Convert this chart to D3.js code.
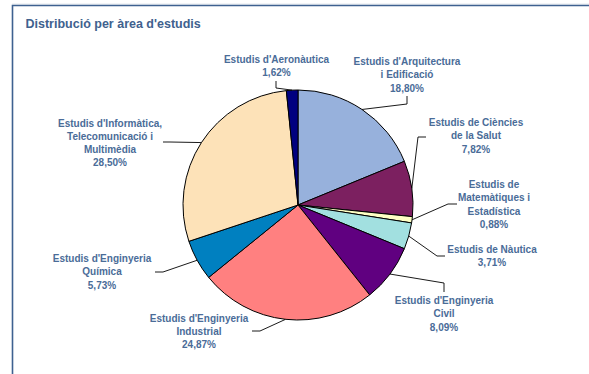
<!DOCTYPE html>
<html>
<head>
<meta charset="utf-8">
<script src="https://cdn.jsdelivr.net/npm/d3@7/dist/d3.min.js"></script>
<style>
  html, body { margin: 0; padding: 0; background: #ffffff; }
  svg { display: block; }
</style>
</head>
<body>
<svg id="chart" width="589" height="374"></svg>
<script>
// Study areas, clockwise from 12 o'clock
const categories = [
  "Estudis d'Arquitectura\ni Edificació",
  "Estudis de Ciències\nde la Salut",
  "Estudis de\nMatemàtiques i\nEstadística",
  "Estudis de Nàutica",
  "Estudis d'Enginyeria\nCivil",
  "Estudis d'Enginyeria\nIndustrial",
  "Estudis d'Enginyeria\nQuímica",
  "Estudis d'Informàtica,\nTelecomunicació i\nMultimèdia",
  "Estudis d'Aeronàutica"
];
const shares = [18.80, 7.82, 0.88, 3.71, 8.09, 24.87, 5.73, 28.50, 1.62];
const sliceColors = ["#97b1dc", "#7c2060", "#ffffc4", "#a2e0e0", "#600080",
                     "#ff8080", "#0080c0", "#fde2b8", "#000080"];

// Label placement: text centre, first line centre, leader elbow and end
const labelLayout = [
  { x: 407, y: 61.5, elbow: [407, 104], end: [407, 96] },
  { x: 476, y: 122.5, elbow: [418, 137], end: [426, 137] },
  { x: 494, y: 184.5, elbow: [448, 204], end: [457, 204] },
  { x: 492, y: 249, elbow: [437, 256], end: [445, 256] },
  { x: 444, y: 300.5, elbow: [444, 283], end: [444, 292] },
  { x: 199, y: 318, elbow: [260, 331], end: [252, 331] },
  { x: 102, y: 258.5, elbow: [163, 272], end: [155, 272] },
  { x: 110, y: 123, elbow: [170, 142], end: [163, 142] },
  { x: 276.5, y: 59.5, elbow: [276, 88], end: [276, 81] }
];

const svg = d3.select("#chart");
const textColor = "#4a6c98";
const frameColor = "#3e6190";

// Chart frame (open to the right and bottom of the page)
svg.append("line").attr("x1", 12).attr("y1", 4).attr("x2", 589).attr("y2", 4)
  .attr("stroke", "#e4e8ee").attr("stroke-width", 1);
svg.append("path")
  .attr("d", "M12.5,380 L12.5,5.5 L595,5.5")
  .attr("fill", "none").attr("stroke", frameColor).attr("stroke-width", 1.6);

svg.append("text")
  .attr("x", 25.5).attr("y", 28)
  .attr("font-family", "Liberation Sans, Arial, sans-serif")
  .attr("font-weight", "bold").attr("font-size", 12.5)
  .attr("fill", "#40618e")
  .text("Distribució per àrea d'estudis");

const cx = 298, cy = 205, radius = 115;
const data = categories.map((c, i) => ({ name: c, value: shares[i], color: sliceColors[i], layout: labelLayout[i] }));

const pie = d3.pie().value(d => d.value).sort(null).startAngle(0).endAngle(2 * Math.PI);
const arcs = pie(data);
const arc = d3.arc().innerRadius(0).outerRadius(radius);

const g = svg.append("g").attr("transform", `translate(${cx},${cy})`);
g.selectAll("path.slice")
  .data(arcs)
  .join("path")
  .attr("class", "slice")
  .attr("d", arc)
  .attr("fill", d => d.data.color)
  .attr("stroke", "#000")
  .attr("stroke-width", 1)
  .attr("stroke-linejoin", "round");

// Leader lines from each slice's outer mid-point
svg.selectAll("polyline.leader")
  .data(arcs)
  .join("polyline")
  .attr("class", "leader")
  .attr("points", d => {
    const a = (d.startAngle + d.endAngle) / 2;
    const p0 = [cx + radius * Math.sin(a), cy - radius * Math.cos(a)];
    return [p0, d.data.layout.elbow, d.data.layout.end].map(p => p.join(",")).join(" ");
  })
  .attr("fill", "none")
  .attr("stroke", "#000")
  .attr("stroke-width", 0.9);

const fmt = d3.format(".2f");
const labels = svg.selectAll("text.lbl")
  .data(data)
  .join("text")
  .attr("class", "lbl")
  .attr("text-anchor", "middle")
  .attr("font-family", "Liberation Sans, Arial, sans-serif")
  .attr("font-weight", "bold")
  .attr("font-size", 10)
  .attr("fill", textColor);

labels.each(function (d) {
  const lines = d.name.split("\n").concat([fmt(d.value).replace(".", ",") + "%"]);
  d3.select(this).selectAll("tspan")
    .data(lines)
    .join("tspan")
    .attr("x", d.layout.x)
    .attr("y", (l, i) => d.layout.y + i * 13.3)
    .attr("dy", "0.35em")
    .text(l => l);
});
</script>
</body>
</html>
